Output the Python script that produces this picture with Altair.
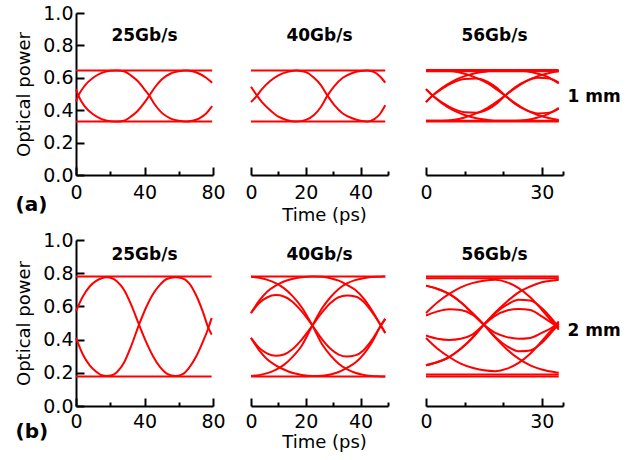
import altair as alt
import pandas as pd

FONT = "DejaVu Sans"
RED = "#ff0000"

# ---------------- row (a): 1 mm ----------------
# 25 Gb/s
T25_1 = [0, 1.4, 5, 10, 15, 20, 24, 28, 32, 36, 39.5, 42.8, 46, 50, 55, 60, 64, 68, 72, 76, 79.5]
C25_1a = [0.53, 0.49, 0.425, 0.375, 0.345, 0.332, 0.33, 0.335, 0.36, 0.395, 0.44, 0.49, 0.54, 0.59, 0.625, 0.64, 0.645, 0.64, 0.625, 0.60, 0.57]
C25_1b = [0.455, 0.49, 0.55, 0.60, 0.63, 0.643, 0.645, 0.64, 0.615, 0.58, 0.535, 0.49, 0.435, 0.385, 0.35, 0.335, 0.33, 0.335, 0.35, 0.38, 0.425]
LV25_1 = [0.645, 0.33]

# 40 Gb/s
T40_1 = [0, 2.2, 4, 7, 10, 13, 16.5, 20, 23, 25.5, 27.9, 30.5, 33.5, 37, 40, 42.5, 45, 47, 49]
C40_1a = [0.545, 0.49, 0.45, 0.40, 0.36, 0.34, 0.33, 0.34, 0.37, 0.42, 0.49, 0.55, 0.60, 0.63, 0.642, 0.645, 0.635, 0.61, 0.57]
C40_1b = [0.45, 0.49, 0.53, 0.58, 0.615, 0.635, 0.645, 0.635, 0.60, 0.555, 0.49, 0.43, 0.38, 0.35, 0.335, 0.33, 0.345, 0.375, 0.43]
LV40_1 = [0.645, 0.33]

# 56 Gb/s
T56_1 = [0, 1.7, 4, 7, 10, 13, 16, 18.5, 20.5, 23, 26, 29, 32, 34.4]
C56_1a = [0.45, 0.49, 0.535, 0.58, 0.61, 0.63, 0.64, 0.645, 0.645, 0.645, 0.64, 0.625, 0.60, 0.565]
C56_1b = [0.53, 0.49, 0.445, 0.40, 0.37, 0.35, 0.34, 0.335, 0.335, 0.335, 0.34, 0.355, 0.38, 0.415]
C56_1c = [0.45, 0.49, 0.53, 0.57, 0.592, 0.595, 0.575, 0.535, 0.49, 0.44, 0.40, 0.38, 0.385, 0.41]
C56_1d = [0.53, 0.49, 0.45, 0.41, 0.388, 0.385, 0.405, 0.445, 0.49, 0.54, 0.58, 0.60, 0.595, 0.57]
C56_1e = [0.645, 0.645, 0.645, 0.64, 0.625, 0.60, 0.565, 0.525, 0.49, 0.445, 0.40, 0.37, 0.35, 0.34]
C56_1f = [0.335, 0.335, 0.335, 0.34, 0.355, 0.38, 0.415, 0.455, 0.49, 0.535, 0.58, 0.61, 0.63, 0.64]
LV56_1 = [0.648, 0.64, 0.335, 0.33]

# ---------------- row (b): 2 mm ----------------
# 25 Gb/s
T25_2 = [0, 4, 8, 12, 15, 18, 21, 24, 28, 32, 36.8, 41, 45, 49, 53, 58, 62, 66, 70, 74, 77.3, 79.2]
C25_2a = [0.572, 0.66, 0.72, 0.755, 0.77, 0.775, 0.77, 0.75, 0.70, 0.615, 0.49, 0.385, 0.30, 0.235, 0.195, 0.18, 0.19, 0.23, 0.295, 0.385, 0.47, 0.53]
C25_2b = [0.41, 0.31, 0.245, 0.205, 0.185, 0.18, 0.185, 0.205, 0.26, 0.355, 0.49, 0.595, 0.675, 0.73, 0.765, 0.775, 0.77, 0.74, 0.67, 0.57, 0.47, 0.43]
LV25_2 = [0.78, 0.177]

# 40 Gb/s
T40_2 = [0, 3, 6, 9, 12, 15, 18.5, 22.4, 26, 29, 32, 35, 38, 41, 44, 47.4, 49]
C40_2a = [0.56, 0.635, 0.69, 0.725, 0.75, 0.765, 0.775, 0.78, 0.778, 0.77, 0.755, 0.73, 0.70, 0.65, 0.58, 0.485, 0.44]
C40_2b = [0.41, 0.335, 0.28, 0.245, 0.22, 0.20, 0.187, 0.18, 0.182, 0.19, 0.205, 0.23, 0.26, 0.31, 0.38, 0.485, 0.525]
C40_2c = [0.56, 0.62, 0.655, 0.668, 0.66, 0.63, 0.57, 0.485, 0.40, 0.345, 0.31, 0.298, 0.305, 0.335, 0.395, 0.485, 0.525]
C40_2d = [0.41, 0.35, 0.315, 0.302, 0.31, 0.34, 0.40, 0.485, 0.565, 0.62, 0.655, 0.665, 0.66, 0.63, 0.57, 0.485, 0.44]
C40_2e = [0.778, 0.772, 0.76, 0.74, 0.71, 0.665, 0.595, 0.485, 0.37, 0.305, 0.255, 0.222, 0.20, 0.188, 0.18, 0.178, 0.177]
C40_2f = [0.18, 0.186, 0.198, 0.218, 0.248, 0.293, 0.363, 0.485, 0.59, 0.655, 0.705, 0.738, 0.758, 0.77, 0.777, 0.779, 0.78]
LV40_2 = [0.78, 0.177]

# 56 Gb/s
T56_2 = [0, 3, 6, 9, 12, 15, 18, 21, 24, 27, 30, 33.5, 34.4]
C56_2a = [0.725, 0.705, 0.675, 0.625, 0.56, 0.49, 0.41, 0.34, 0.285, 0.245, 0.22, 0.203, 0.20]
C56_2b = [0.245, 0.265, 0.295, 0.345, 0.41, 0.49, 0.565, 0.63, 0.685, 0.72, 0.745, 0.757, 0.76]
C56_2c = [0.56, 0.625, 0.675, 0.715, 0.74, 0.755, 0.76, 0.745, 0.71, 0.655, 0.58, 0.485, 0.46]
C56_2d = [0.41, 0.345, 0.295, 0.255, 0.23, 0.215, 0.21, 0.225, 0.26, 0.315, 0.39, 0.485, 0.51]
C56_2e = [0.545, 0.57, 0.583, 0.578, 0.55, 0.49, 0.44, 0.415, 0.405, 0.41, 0.44, 0.485, 0.50]
C56_2f = [0.425, 0.405, 0.398, 0.405, 0.43, 0.49, 0.545, 0.575, 0.585, 0.578, 0.54, 0.485, 0.47]
C56_2g = [0.725, 0.705, 0.675, 0.625, 0.56, 0.49, 0.415, 0.36, 0.33, 0.335, 0.38, 0.47, 0.495]
C56_2h = [0.245, 0.265, 0.295, 0.345, 0.41, 0.49, 0.56, 0.61, 0.64, 0.635, 0.59, 0.50, 0.475]
LV56_2 = [0.78, 0.77, 0.19, 0.178]

Y_TICKS = [0.0, 0.2, 0.4, 0.6, 0.8, 1.0]


def build(t, traces, levels):
    rows = []
    for k, vals in enumerate(traces):
        for i, (tt, vv) in enumerate(zip(t, vals)):
            rows.append({"trace": f"c{k}", "i": i, "t": tt, "v": vv})
    for k, lv in enumerate(levels):
        rows.append({"trace": f"h{k}", "i": 0, "t": 0, "v": lv})
        rows.append({"trace": f"h{k}", "i": 1, "t": t[-1], "v": lv})
    return pd.DataFrame(rows)


def panel(df, xmax, xlab, xmaj, xmin, w, h, head, head_off, col, lab_pad,
          letter=None, letter_y=0, xtitle_y=0, side=None, side_y=0):
    xs = alt.Scale(domain=[0, xmax], nice=False, zero=False)
    ys = alt.Scale(domain=[0, 1], nice=False, zero=False)

    xkw = dict(orient="bottom", values=xlab, format="d", ticks=False,
               domainColor="black", domainWidth=2, labelFontSize=19,
               labelPadding=lab_pad, labelFlush=False, grid=False)
    if col == 0:
        xkw.update(title=letter, titleX=-61, titleY=letter_y, titleAlign="left",
                   titleBaseline="alphabetic", titleFontSize=20, titleFontWeight="bold")
    elif col == 1:
        xkw.update(title="Time (ps)", titleX=73, titleY=xtitle_y, titleAlign="center",
                   titleBaseline="alphabetic", titleFontSize=18, titleFontWeight="normal")
    else:
        xkw.update(title=None)
    x_main = alt.Axis(**xkw)

    if col == 0:
        y_main = alt.Axis(orient="left", values=Y_TICKS, format=".1f", ticks=False,
                          domainColor="black", domainWidth=2, labelFontSize=19,
                          labelPadding=3, grid=False, title="Optical power",
                          titleFontSize=18, titleFontWeight="normal", titlePadding=9)
    elif col == 2:
        y_main = alt.Axis(orient="right", labels=False, ticks=False, domain=False,
                          grid=False, title=side, titleAngle=0, titleX=4, titleY=side_y,
                          titleAlign="left", titleBaseline="alphabetic",
                          titleFontSize=17, titleFontWeight="bold")
    else:
        y_main = None

    base = alt.Chart(df)
    lines = base.mark_line(color=RED, strokeWidth=2, interpolate="monotone").encode(
        x=alt.X("t:Q", scale=xs, axis=x_main),
        y=alt.Y("v:Q", scale=ys, axis=y_main),
        detail="trace:N",
        order="i:Q",
    )

    x_major = alt.Axis(orient="top", offset=-h, values=xmaj, labels=False, domain=False,
                       tickSize=8, tickWidth=2, tickColor="black", grid=False, title=None)
    x_minor = alt.Axis(orient="top", offset=-h, values=xmin, labels=False, domain=False,
                       tickSize=4, tickWidth=2, tickColor="black", grid=False, title=None)
    if col == 0:
        y_tick = alt.Axis(orient="right", offset=-w, values=Y_TICKS, labels=False,
                          domain=False, tickSize=8, tickWidth=2, tickColor="black",
                          grid=False, title=None)
    else:
        y_tick = None

    major = base.mark_line(opacity=0).encode(
        x=alt.X("t:Q", scale=xs, axis=x_major),
        y=alt.Y("v:Q", scale=ys, axis=y_tick),
        detail="trace:N", order="i:Q",
    )
    minor = base.mark_line(opacity=0).encode(
        x=alt.X("t:Q", scale=xs, axis=x_minor),
        y=alt.Y("v:Q", scale=ys, axis=None),
        detail="trace:N", order="i:Q",
    )
    title = alt.TitleParams(text=head, offset=head_off, fontSize=17, fontWeight="bold",
                            baseline="alphabetic", anchor="middle", frame="group")
    return alt.layer(lines, major, minor).resolve_axis(
        x="independent", y="independent"
    ).properties(width=w, height=h, title=title)


W = 137
H1 = 162
H2 = 166

p11 = panel(build(T25_1, [C25_1a, C25_1b], LV25_1), 80, [0, 40, 80], [0, 40, 80], [20, 60],
            W, H1, "25Gb/s", -54, 0, 8, letter="(a)", letter_y=35)
p12 = panel(build(T40_1, [C40_1a, C40_1b], LV40_1), 50, [0, 20, 40], [0, 20, 40], [10, 30, 50],
            W, H1, "40Gb/s", -45, 1, 8, xtitle_y=45)
p13 = panel(build(T56_1, [C56_1a, C56_1b, C56_1c, C56_1d, C56_1e, C56_1f], LV56_1), 35.5,
            [0, 30], [0, 30], [10, 20, 35.5], W, H1, "56Gb/s", -45, 2, 8, side="1 mm", side_y=88)

p21 = panel(build(T25_2, [C25_2a, C25_2b], LV25_2), 80, [0, 40, 80], [0, 40, 80], [20, 60],
            W, H2, "25Gb/s", -46, 0, 6, letter="(b)", letter_y=31)
p22 = panel(build(T40_2, [C40_2a, C40_2b, C40_2c, C40_2d, C40_2e, C40_2f], LV40_2), 50,
            [0, 20, 40], [0, 20, 40], [10, 30, 50], W, H2, "40Gb/s", -37, 1, 6, xtitle_y=41)
p23 = panel(build(T56_2, [C56_2a, C56_2b, C56_2c, C56_2d, C56_2e, C56_2f, C56_2g, C56_2h], LV56_2),
            35.5, [0, 30], [0, 30], [10, 20, 35.5], W, H2, "56Gb/s", -37, 2, 6, side="2 mm", side_y=95)

chart = alt.concat(
    p11, p12, p13, p21, p22, p23,
    columns=3, spacing={"row": 65, "column": 38}, bounds="flush",
).properties(
    padding={"left": 15, "top": 4, "right": 5, "bottom": 5}
).configure_view(strokeWidth=0).configure_axis(
    labelFont=FONT, titleFont=FONT, labelColor="black", titleColor="black"
).configure_title(font=FONT, color="black")

chart.save("out.html", embed_options={"renderer": "svg", "actions": False})
